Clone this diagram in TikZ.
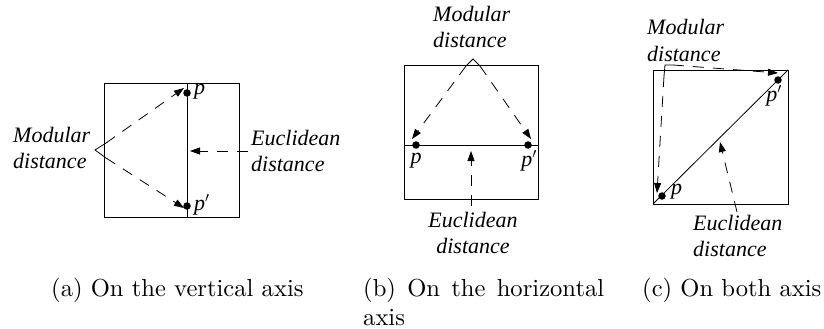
\documentclass[tikz,border=0pt]{standalone}
\usepackage{fontspec}
\newfontfamily\tms{Liberation Serif}
\newfontfamily\capfont{lmroman10-regular}[Extension=.otf]
\usetikzlibrary{arrows.meta}
\newcommand{\lblL}[1]{\parbox[t]{110pt}{\raggedright\tms\itshape\fontsize{22}{26}\selectfont #1}}
\newcommand{\lblC}[1]{\parbox[t]{110pt}{\centering\tms\itshape\fontsize{22}{26}\selectfont #1}}
\begin{document}
\begin{tikzpicture}[x=1pt,y=-1pt,
  frame/.style={line width=0.8pt},
  dsh/.style={line width=0.8pt, dash pattern=on 11pt off 9pt, -{Triangle[length=10pt,width=7pt]}},
  brk/.style={line width=0.8pt},
  dotn/.style={circle, fill, inner sep=0pt, minimum size=7.5pt},
  lbl/.style={inner sep=0pt, anchor=base west},
  plab/.style={inner sep=0pt, font=\tms\itshape\fontsize{22}{26}\selectfont},
  captxt/.style={inner sep=0pt, anchor=base west, font=\capfont\fontsize{24.6}{29}\selectfont}]
\useasboundingbox (0,0) rectangle (824,329);

% ---------- (a) ----------
\draw[frame] (104,83) rectangle (239,217);
\coordinate (aTop) at (187,83);
\coordinate (aBot) at (187,217);
\draw[frame] (aTop) -- (aBot);
\node[dotn] (ap) at (187,93) {};
\node[dotn] (app) at (187,206) {};
\node[plab, anchor=west] (apl) at (194,92) {p};
\node[plab, anchor=west] (appl) at (194,205) {p$'$};
\node[lbl] (amod) at (13,142) {\lblL{Modular\\distance}};
\node[lbl] (aeuc) at (251,145) {\lblL{Euclidean\\distance}};
\coordinate (aApex) at (95,150);
\coordinate (aU) at (106,143);
\coordinate (aL) at (106,158);
\draw[brk] (aU) -- (aApex) -- (aL);
\coordinate (aT1) at (184,88);
\coordinate (aT2) at (184,208);
\draw[dsh] (aU) -- (aT1);
\draw[dsh] (aL) -- (aT2);
\coordinate (aE0) at (248,151);
\coordinate (aE1) at (190,151);
\draw[dsh] (aE0) -- (aE1);

% ---------- (b) ----------
\draw[frame] (404,65) rectangle (538,199);
\coordinate (bL) at (404,145);
\coordinate (bR) at (538,145);
\draw[frame] (bL) -- (bR);
\node[dotn] (bp) at (416,145) {};
\node[dotn] (bpp) at (528,145) {};
\node[plab] (bpl) at (416,161) {p};
\node[plab] (bppl) at (529,161) {p$'$};
\node[lbl] (bmod) at (433,22) {\lblL{Modular\\distance}};
\node[inner sep=0pt, anchor=base] (beuc) at (473,227) {\lblC{Euclidean\\distance}};
\coordinate (bApex) at (473,59);
\coordinate (bU) at (466,66);
\coordinate (bV) at (480,66);
\draw[brk] (bU) -- (bApex) -- (bV);
\coordinate (bT1) at (412,139);
\coordinate (bT2) at (531,139);
\draw[dsh] (bU) -- (bT1);
\draw[dsh] (bV) -- (bT2);
\coordinate (bE0) at (471,206);
\coordinate (bE1) at (471,151);
\draw[dsh] (bE0) -- (bE1);

% ---------- (c) ----------
\draw[frame] (653,70) rectangle (788,204);
\coordinate (cBL) at (653,204);
\coordinate (cTR) at (788,70);
\draw[frame] (cBL) -- (cTR);
\node[dotn] (cp) at (662,196) {};
\node[dotn] (cpp) at (778,80) {};
\node[plab, anchor=west] (cpl) at (671,192) {p};
\node[plab] (cppl) at (774,96) {p$'$};
\node[lbl] (cmod) at (647,35) {\lblL{Modular\\distance}};
\node[lbl] (ceuc) at (693,230) {\lblL{Euclidean\\distance}};
\coordinate (cCorner) at (665,65);
\coordinate (cD) at (664,76);
\coordinate (cR) at (673,65);
\coordinate (cT1) at (778,73);
\coordinate (cT2) at (657,193);
\draw[brk] (cD) -- (cCorner) -- (cR);
\draw[dsh] (cR) -- (cT1);
\draw[dsh] (cD) -- (cT2);
\coordinate (cE0) at (737,212);
\coordinate (cE1) at (720,142);
\draw[dsh] (cE0) -- (cE1);

% ---------- captions ----------
\node[captxt] (capa) at (51,296) {(a) On the vertical axis};
\node[captxt] (capb) at (363,296) {\parbox[t]{241pt}{\hyphenpenalty=10000\capfont\fontsize{24.6}{29}\selectfont (b) On the horizontal\linebreak axis}};
\node[captxt] (capc) at (642,296) {(c) On both axis};
\end{tikzpicture}
\end{document}
